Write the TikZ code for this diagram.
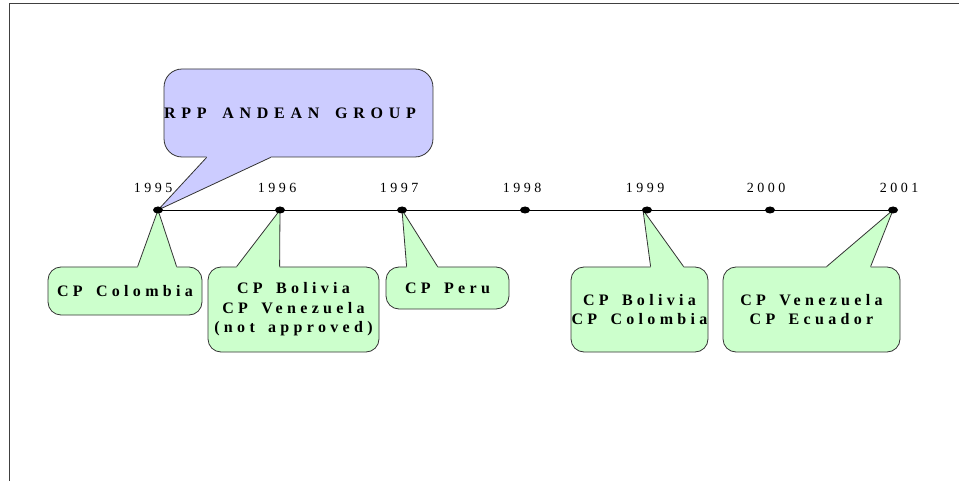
\documentclass[tikz,border=0pt]{standalone}
\usepackage{fontspec}
\setmainfont{Liberation Serif}
\newfontfamily\notefont[LetterSpace=27,WordSpace=1.6]{Liberation Serif}
\newfontfamily\titlefont[LetterSpace=36,WordSpace=1.6]{Liberation Serif}
\newfontfamily\yearfont[LetterSpace=25]{Liberation Serif}
\usepackage{tikz}
\usepackage{xcolor}
\usetikzlibrary{shapes.geometric,backgrounds}
\definecolor{notegreen}{HTML}{CCFFCC}
\definecolor{noteblue}{HTML}{CCCCFF}

\begin{document}
\begin{tikzpicture}[x=1pt,y=-1pt]
			\useasboundingbox (0,0) rectangle (959,481);
			\draw[black!75,line width=1pt] (9,481) -- (9,4) -- (959,4);
			\tikzstyle{yeardot}=[ellipse,fill=black,minimum width=10pt,minimum height=7pt,inner sep=0pt]
			\tikzstyle{yearlabel}=[inner sep=0pt,font=\yearfont\fontsize{14}{16}\selectfont]
			\tikzstyle{note}=[rectangle,rounded corners=13pt,draw=black!80,line width=0.8pt,fill=notegreen,align=center,inner sep=0pt,font=\notefont\bfseries\fontsize{16}{19.5}\selectfont]
			\tikzstyle{tail}=[draw=black!80,line width=0.8pt,line join=miter]
			% years on the line
			\node[yeardot] (d95) at (158,210) {};
			\node[yeardot] (d96) at (280,210) {};
			\node[yeardot] (d97) at (402,210) {};
			\node[yeardot] (d98) at (525,210) {};
			\node[yeardot] (d99) at (647,210) {};
			\node[yeardot] (d00) at (770,210) {};
			\node[yeardot] (d01) at (893,210) {};
			\node[yearlabel] (y95) at (153,188) {1995};
			\node[yearlabel] (y96) at (277,188) {1996};
			\node[yearlabel] (y97) at (399,188) {1997};
			\node[yearlabel] (y98) at (522,188) {1998};
			\node[yearlabel] (y99) at (645,188) {1999};
			\node[yearlabel] (y00) at (766,188) {2000};
			\node[yearlabel] (y01) at (899,188) {2001};
			\begin{scope}[on background layer]
			\draw[line width=0.8pt] (d95.center) -- (d01.center);
			% RPP box
			\node[note,fill=noteblue,rounded corners=18pt,minimum width=257pt,minimum height=88pt,font=\titlefont\bfseries\fontsize{16}{19.5}\selectfont] (rpp) at (298.5,113) {RPP ANDEAN GROUP\hspace{17pt}};
			\fill[noteblue] ([xshift=43pt,yshift=1.5pt]rpp.south west) -- ([xshift=43pt]rpp.south west) -- (d95.center) -- ([xshift=107pt]rpp.south west) -- ([xshift=107pt,yshift=1.5pt]rpp.south west) -- cycle;
			\draw[tail] ([xshift=43pt]rpp.south west) -- (d95.center) -- ([xshift=107pt]rpp.south west);
			% CP boxes
			\node[note,minimum width=154pt,minimum height=48pt] (colombia) at (125,291) {CP Colombia};
			\node[note,minimum width=171pt,minimum height=85pt] (bolven) at (293.5,309.5) {CP Bolivia\\CP Venezuela\\(not approved)};
			\node[note,minimum width=123pt,minimum height=42pt] (peru) at (447.5,288) {CP Peru};
			\node[note,minimum width=137pt,minimum height=85pt] (bolcol) at (639.5,309.5) {\makebox[0pt]{CP Bolivia}\\\makebox[0pt]{CP Colombia}};
			\node[note,minimum width=177pt,minimum height=85pt] (venecu) at (811.5,309.5) {CP Venezuela\\CP Ecuador};
			\fill[notegreen] ([xshift=90pt,yshift=-1.5pt]colombia.north west) -- ([xshift=90pt]colombia.north west) -- (d95.center) -- ([xshift=129pt]colombia.north west) -- ([xshift=129pt,yshift=-1.5pt]colombia.north west) -- cycle;
			\draw[tail] ([xshift=90pt]colombia.north west) -- (d95.center) -- ([xshift=129pt]colombia.north west);
			\fill[notegreen] ([xshift=29pt,yshift=-1.5pt]bolven.north west) -- ([xshift=29pt]bolven.north west) -- (d96.center) -- ([xshift=72pt]bolven.north west) -- ([xshift=72pt,yshift=-1.5pt]bolven.north west) -- cycle;
			\draw[tail] ([xshift=29pt]bolven.north west) -- (d96.center) -- ([xshift=72pt]bolven.north west);
			\fill[notegreen] ([xshift=21pt,yshift=-1.5pt]peru.north west) -- ([xshift=21pt]peru.north west) -- (d97.center) -- ([xshift=52pt]peru.north west) -- ([xshift=52pt,yshift=-1.5pt]peru.north west) -- cycle;
			\draw[tail] ([xshift=21pt]peru.north west) -- (d97.center) -- ([xshift=52pt]peru.north west);
			\fill[notegreen] ([xshift=80pt,yshift=-1.5pt]bolcol.north west) -- ([xshift=80pt]bolcol.north west) -- ([xshift=-4pt]d99.center) -- ([xshift=113pt]bolcol.north west) -- ([xshift=113pt,yshift=-1.5pt]bolcol.north west) -- cycle;
			\draw[tail] ([xshift=80pt]bolcol.north west) -- ([xshift=-4pt]d99.center) -- ([xshift=113pt]bolcol.north west);
			\fill[notegreen] ([xshift=104pt,yshift=-1.5pt]venecu.north west) -- ([xshift=104pt]venecu.north west) -- (d01.center) -- ([xshift=148pt]venecu.north west) -- ([xshift=148pt,yshift=-1.5pt]venecu.north west) -- cycle;
			\draw[tail] ([xshift=104pt]venecu.north west) -- (d01.center) -- ([xshift=148pt]venecu.north west);
			\end{scope}
		\end{tikzpicture}
\end{document}
